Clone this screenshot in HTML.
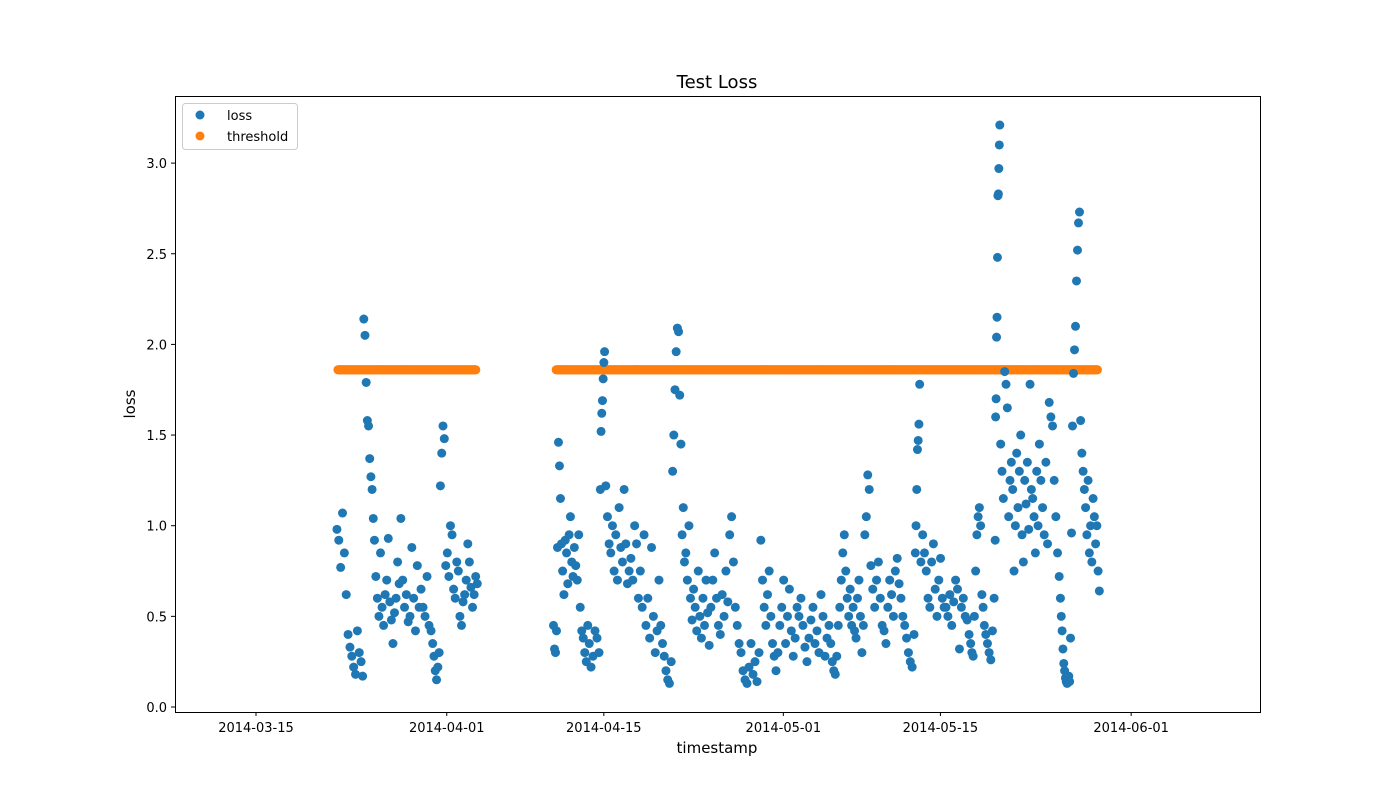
<!DOCTYPE html>
<html><head><meta charset="utf-8"><style>
body{margin:0;background:#fff}
svg{display:block;font-family:"DejaVu Sans","Liberation Sans",sans-serif}
</style></head><body>
<svg id="chart" width="1400" height="800">
<text x="717" y="88" font-size="18" text-anchor="middle">Test Loss</text>
<text x="717" y="753" font-size="15" text-anchor="middle">timestamp</text>
<text transform="translate(135,404) rotate(-90)" font-size="15" text-anchor="middle">loss</text>
<g id="marks"></g>
<g id="axes"></g>
<rect x="175.5" y="96.5" width="1085" height="616" fill="none" stroke="#000" stroke-width="1"/>
<g>
<rect x="182.5" y="103.5" width="115" height="46" rx="3" fill="#fff" fill-opacity="0.8" stroke="#ccc"/>
<circle cx="200" cy="115" r="4.5" fill="#1f77b4"/>
<text x="227" y="120" font-size="13">loss</text>
<circle cx="200" cy="136" r="4.5" fill="#ff7f0e"/>
<text x="227" y="141" font-size="13">threshold</text>
</g>
</svg>
<script>
const xTickLabels = ["2014-03-15","2014-04-01","2014-04-15","2014-05-01","2014-05-15","2014-06-01"];
const yTickValues = [0.0,0.5,1.0,1.5,2.0,2.5,3.0];
// chunk start / end in days since 2014-03-15
const chunkStartDay = [7.13,9.45,10.61,12.83,14.62,15.69,16.84,
26.47,27.27,28.43,29.77,30.66,31.1,33.33,34.67,36.0,37.08,38.24,40.46,43.14,44.92,46.26,48.48,51.16,52.5,54.72,57.4,58.73,59.18,61.41,63.64,64.97,65.86,66.31,69.88,71.66,72.55,73.44];
const chunkEndDay = [9.45,10.61,12.83,14.62,15.69,16.84,19.79,
27.27,28.43,29.77,30.66,31.1,33.33,34.67,36.0,37.08,38.24,40.46,43.14,44.92,46.26,48.48,51.16,52.5,54.72,57.4,58.73,59.18,61.41,63.64,64.97,65.86,66.31,69.88,71.66,72.55,73.44,75.22];
const lossChunks = [
[0.98,0.92,0.77,1.07,0.85,0.62,0.4,0.33,0.28,0.22,0.18,0.42,0.3,0.25],
[0.17,2.14,2.05,1.79,1.58,1.55,1.37,1.27,1.2,1.04,0.92],
[0.72,0.6,0.5,0.85,0.55,0.45,0.62,0.7,0.93,0.58,0.48,0.35,0.52,0.6,0.8,0.68],
[1.04,0.7,0.55,0.62,0.47,0.5,0.88,0.6,0.42,0.78,0.55],
[0.65,0.55,0.5,0.72,0.45,0.42],
[0.35,0.28,0.2,0.15,0.22,0.3,1.22,1.4,1.55,1.48],
[0.78,0.85,0.72,1.0,0.95,0.65,0.6,0.8,0.75,0.5,0.45,0.58,0.62,0.7,0.9,0.8,0.66,0.55,0.62,0.72,0.68],
[0.45,0.32,0.3,0.42,0.88,1.46,1.33,1.15,0.9],
[0.75,0.62,0.92,0.85,0.68,0.95,1.05,0.8,0.72,0.88],
[0.78,0.7,0.95,0.55,0.42,0.38,0.3,0.25,0.45,0.35],
[0.22,0.28,0.42,0.38,0.3],
[1.2,1.52,1.62,1.69,1.81,1.9,1.96],
[1.22,1.05,0.9,0.85,1.0,0.75,0.95,0.7,1.1,0.88,0.8,1.2,0.9,0.68,0.75],
[0.82,0.7,1.0,0.9,0.6,0.75,0.55,0.95],
[0.45,0.6,0.38,0.88,0.5,0.3,0.42,0.7],
[0.45,0.35,0.28,0.2,0.15,0.13,0.25],
[1.3,1.5,1.75,1.96,2.09,2.07,1.72,1.45,0.95,1.1,0.8],
[0.85,0.7,1.0,0.6,0.48,0.65,0.55,0.42,0.75,0.5,0.38,0.6,0.45,0.7,0.52,0.34],
[0.55,0.7,0.85,0.6,0.45,0.4,0.62,0.5,0.75,0.58,0.95,1.05,0.8,0.55,0.45,0.35],
[0.3,0.2,0.15,0.13,0.22,0.35,0.18,0.25,0.14,0.3],
[0.92,0.7,0.55,0.45,0.62,0.75,0.5,0.35,0.28],
[0.2,0.3,0.45,0.55,0.7,0.35,0.5,0.65,0.42,0.28,0.38,0.55,0.5],
[0.6,0.45,0.33,0.25,0.38,0.48,0.55,0.35,0.42,0.3,0.62,0.5,0.28,0.38,0.45],
[0.35,0.25,0.2,0.18,0.28,0.45,0.55,0.7,0.85,0.95],
[0.75,0.6,0.5,0.65,0.45,0.55,0.42,0.38,0.6,0.7,0.5,0.3,0.45,0.95,1.05,1.28,1.2],
[0.78,0.65,0.55,0.7,0.8,0.6,0.45,0.42,0.35,0.55,0.7,0.62,0.5,0.75,0.82,0.68],
[0.6,0.5,0.45,0.38,0.3,0.25,0.22,0.4],
[0.85,1.0,1.2,1.42,1.47,1.56,1.78],
[0.8,0.95,0.85,0.75,0.6,0.55,0.8,0.9,0.65,0.5,0.7,0.82,0.6,0.55],
[0.55,0.5,0.62,0.45,0.58,0.7,0.65,0.32,0.55,0.6,0.5,0.48,0.4],
[0.35,0.3,0.28,0.5,0.75,0.95,1.05,1.1,1.0,0.62,0.55,0.45],
[0.4,0.35,0.3,0.26,0.42,0.6],
[0.92,1.6,1.7,2.04,2.15,2.48,2.82,2.83,2.97,3.1,3.21],
[1.45,1.3,1.15,1.85,1.78,1.65,1.05,1.25,1.35,1.2,0.75,1.0,1.4,1.1,1.3,1.5,0.95,0.8,1.25,1.12,1.35,0.98,1.78,1.2,1.15,1.05,0.85,1.3,1.0,1.45],
[1.25,1.1,0.95,1.35,0.9,1.68,1.6,1.55,1.25,1.05,0.85,0.72],
[0.6,0.5,0.42,0.32,0.24,0.2,0.16,0.14,0.13,0.15,0.17,0.14],
[0.38,0.96,1.55,1.84,1.97,2.1,2.35,2.52,2.67,2.73],
[1.58,1.4,1.3,1.2,1.1,0.95,1.25,0.85,1.0,0.8,1.15,1.05,0.9,1.0,0.75,0.64]
];
const thresholdValue = [1.86];
const thresholdStartDay = [7.3,26.75];
const thresholdEndDay = [19.6,75.0];

const NS="http://www.w3.org/2000/svg";
const t0=Date.parse("2014-03-15T00:00");
const DAY=86400000;
function xDay(d){return 256+d*11.22;}
function xScale(ts){return xDay((Date.parse(ts+"T00:00")-t0)/DAY);}
function yScale(v){return 707-181.3*v;}
const marks=document.getElementById('marks');
const axes=document.getElementById('axes');
function mk(tag,attrs,parent){const e=document.createElementNS(NS,tag);for(const k in attrs)e.setAttribute(k,attrs[k]);parent.appendChild(e);return e;}

thresholdStartDay.forEach((s,si)=>{
  for(let d=s;d<=thresholdEndDay[si]+1e-9;d+=1/24){
    const c=mk('circle',{cx:xDay(d),cy:yScale(thresholdValue[0]),r:4.5,fill:'#ff7f0e'},marks);
    
    
  }
});
lossChunks.forEach((arr,ci)=>{
  const a=chunkStartDay[ci],b=chunkEndDay[ci];
  arr.forEach((v,i)=>{
    const d=a+(b-a)*(i+0.5)/arr.length;
    const c=mk('circle',{cx:xDay(d),cy:yScale(v),r:4.5,fill:'#1f77b4'},marks);
    
    
  });
});
xTickLabels.forEach(l=>{
  const x=xScale(l);
  const t=mk('line',{x1:x,x2:x,y1:712,y2:716,stroke:'#000'},axes);
  
  
  const tx=mk('text',{x:x,y:732,'font-size':13,'text-anchor':'middle'},axes);
  tx.textContent=l;
  
  
});
yTickValues.forEach(v=>{
  const y=yScale(v);
  const t=mk('line',{x1:171,x2:175,y1:y,y2:y,stroke:'#000'},axes);
  
  
  const tx=mk('text',{x:167,y:y+5,'font-size':13,'text-anchor':'end'},axes);
  tx.textContent=v.toFixed(1);
  
  
});
</script>
</body></html>
